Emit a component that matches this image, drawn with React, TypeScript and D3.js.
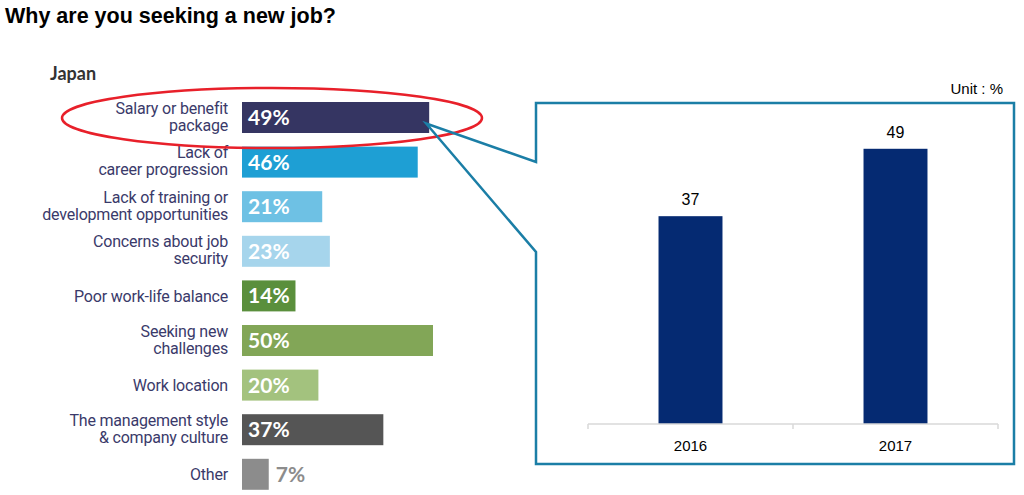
import { scaleLinear, scaleBand } from "d3";

const reasons = [
  ["Salary or benefit", "package"],
  ["Lack of", "career progression"],
  ["Lack of training or", "development opportunities"],
  ["Concerns about job", "security"],
  ["Poor work-life balance"],
  ["Seeking new", "challenges"],
  ["Work location"],
  ["The management style", "& company culture"],
  ["Other"],
];
const shares = [49, 46, 21, 23, 14, 50, 20, 37, 7];
const barColors = [
  "#353562", "#1e9fd4", "#6ec1e4", "#a6d5ec",
  "#5a8f3c", "#82a657", "#a3c27e", "#555555", "#8c8c8c",
];

const years = ["2016", "2017"];
const salaryShare = [37, 49];

const labelFont = "Roboto, 'Liberation Sans', sans-serif";
const valueFont = "Lato, Roboto, 'Liberation Sans', Arial, sans-serif";
const jpFont = "'Liberation Sans', Arial, sans-serif";
const teal = "#1b7ea6";

export default function App() {
  // left: horizontal bars
  let xL = scaleLinear().domain([0, 50]).range([242, 433]);
  let yL = scaleBand<number>()
    .domain(shares.map((_, i) => i))
    .range([95.2, 496.6])
    .paddingInner(0.305)
    .paddingOuter(0.1525);

  // right: zoomed column chart
  let xR = scaleBand<string>()
    .domain(years)
    .range([588, 998])
    .paddingInner(0.688)
    .paddingOuter(0.344);
  let yR = scaleLinear().domain([0, 60]).range([424, 87]);

  let [r0, r1] = xR.range();
  let tickXs = [r0, (r0 + r1) / 2, r1];

  // callout shape
  let apexX = xL(shares[0]) - 3;
  let apexY = (yL(0) ?? 0) + yL.bandwidth() / 2 + 6;
  let box = { l: 536, t: 103, r: 1014, b: 464 };
  let callout = `M ${box.l},162 V ${box.t} H ${box.r} V ${box.b} H ${box.l} V 252 L ${apexX},${apexY} Z`;

  return (
    <svg
      width={1024}
      height={495}
      style={{ position: "absolute", left: 0, top: 0, background: "#fff" }}
    >
      <text x={5} y={23} fontFamily={jpFont} fontWeight="bold" fontSize={21.5} fill="#000">
        Why are you seeking a new job?
      </text>
      <text x={50} y={80} fontFamily={valueFont} fontWeight="bold" fontSize={18} fill="#333">
        Japan
      </text>

      {shares.map((v, i) => {
        let y0 = yL(i) ?? 0;
        let h = yL.bandwidth();
        let cy = y0 + h / 2;
        let lines = reasons[i];
        let inside = v >= 10;
        return (
          <g key={i}>
            <rect x={xL(0)} y={y0} width={xL(v) - xL(0)} height={h} fill={barColors[i]} />
            {lines.map((ln, j) => (
              <text
                key={j}
                x={228}
                y={lines.length === 1 ? cy + 6 : cy - 4 + j * 17}
                textAnchor="end"
                fontFamily={labelFont}
                fontSize={16}
                letterSpacing={-0.2}
                fill="#3a3a6a"
              >
                {ln}
              </text>
            ))}
            <text
              x={inside ? xL(0) + 6 : xL(v) + 7}
              y={cy + 7.5}
              fontFamily={valueFont}
              fontWeight="bold"
              fontSize={21}
              fill={inside ? "#fff" : "#8c8c8c"}
            >
              {v}%
            </text>
          </g>
        );
      })}

      <ellipse cx={272} cy={118} rx={210} ry={30} fill="none" stroke="#e8202a" strokeWidth={2.5} />

      <path d={callout} fill="none" stroke={teal} strokeWidth={2.5} strokeLinejoin="miter" />

      <text x={1003} y={94} textAnchor="end" fontFamily={jpFont} fontSize={15} fill="#000">
        Unit : %
      </text>

      {years.map((yr, i) => {
        let x0 = xR(yr) ?? 0;
        let w = xR.bandwidth();
        return (
          <g key={yr}>
            <rect x={x0} y={yR(salaryShare[i])} width={w} height={yR(0) - yR(salaryShare[i])} fill="#052a72" />
            <text
              x={x0 + w / 2}
              y={yR(salaryShare[i]) - 11}
              textAnchor="middle"
              fontFamily={jpFont}
              fontSize={16}
              fill="#000"
            >
              {salaryShare[i]}
            </text>
            <text
              x={x0 + w / 2}
              y={451}
              textAnchor="middle"
              fontFamily={jpFont}
              fontSize={15}
              fill="#000"
            >
              {yr}
            </text>
          </g>
        );
      })}

      <line x1={r0} x2={r1} y1={yR(0)} y2={yR(0)} stroke="#d9d9d9" strokeWidth={1.5} />
      {tickXs.map((tx, i) => (
        <line key={i} x1={tx} x2={tx} y1={yR(0)} y2={yR(0) + 5} stroke="#d9d9d9" strokeWidth={1.5} />
      ))}
    </svg>
  );
}
